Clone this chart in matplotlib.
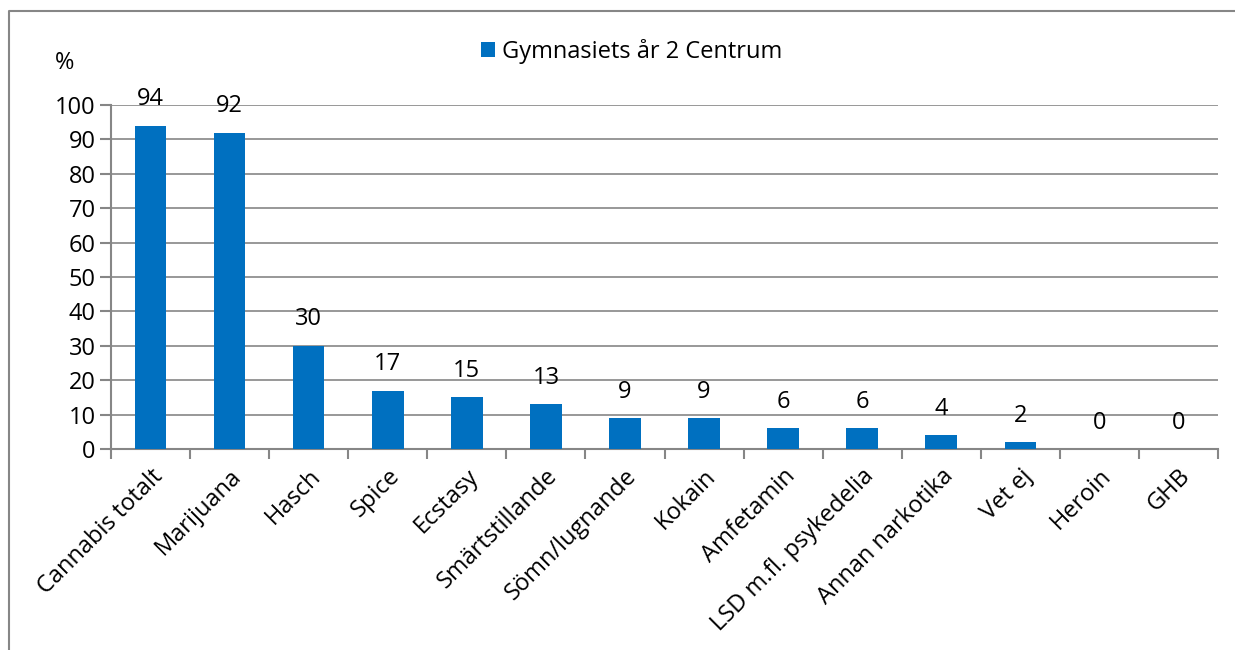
import matplotlib.pyplot as plt
import numpy as np

categories = ["Cannabis totalt", "Marijuana", "Hasch", "Spice", "Ecstasy",
              "Smärtstillande", "Sömn/lugnande", "Kokain", "Amfetamin",
              "LSD m.fl. psykedelia", "Annan narkotika", "Vet ej", "Heroin", "GHB"]
values = [94, 92, 30, 17, 15, 13, 9, 9, 6, 6, 4, 2, 0, 0]
series_name = "Gymnasiets år 2 Centrum"
yticks = list(range(0, 101, 10))

plt.rcParams["font.family"] = ["Open Sans", "DejaVu Sans"]
bar_color = "#0070C0"
grid_color = "#868686"
fs = 17

fig = plt.figure(figsize=(12.35, 6.5), dpi=100)
ax = fig.add_axes([111 / 1235, 1 - 449 / 650, (1218 - 111) / 1235, (449 - 105) / 650])

x = np.arange(len(categories))
ax.bar(x, values, width=0.4, color=bar_color, label=series_name, zorder=3)
for xi, v in zip(x, values):
    ax.text(xi, v + 4.2, str(v), ha="center", va="bottom", fontsize=fs)

ax.set_xlim(-0.5, len(categories) - 0.5)
ax.set_ylim(0, 100)
ax.set_yticks(yticks)
ax.tick_params(axis="y", labelsize=fs, length=8, color=grid_color, width=1.5, pad=3)
for t in yticks[1:]:
    ax.axhline(t, color=grid_color, linewidth=1.2, zorder=1)

ax.set_xticks(x)
ax.set_xticklabels(categories, rotation=45, ha="right", rotation_mode="anchor",
                   fontsize=fs)
ax.tick_params(axis="x", length=0, pad=11)
ax.set_xticks(np.arange(len(categories) + 1) - 0.5, minor=True)
ax.tick_params(axis="x", which="minor", length=7, color=grid_color, width=1.5)

for s in ["top", "right"]:
    ax.spines[s].set_visible(False)
for s in ["left", "bottom"]:
    ax.spines[s].set_color(grid_color)
    ax.spines[s].set_linewidth(1.5)

ax.text(-0.042, 1.105, "%", transform=ax.transAxes, fontsize=fs, ha="center")

ax.legend(loc="upper center", bbox_to_anchor=(0.5 - 0.03, 1.255), frameon=False,
          fontsize=fs, handlelength=0.6, handleheight=0.6, handletextpad=0.3)

border = plt.Line2D([9 / 1235, 9 / 1235, 1.0], [0.0, 1 - 11 / 650, 1 - 11 / 650],
                    transform=fig.transFigure, color=grid_color, linewidth=1.5)
fig.add_artist(border)

fig.savefig("out.png", dpi=100)
